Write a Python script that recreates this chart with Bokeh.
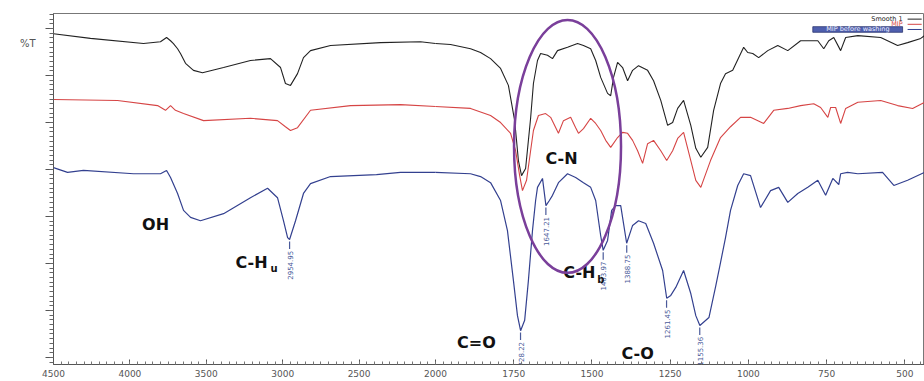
import numpy as np
from bokeh.plotting import figure
from bokeh.models import Range1d, FixedTicker, LinearAxis
from bokeh.core.properties import value
from bokeh.embed import file_html
from bokeh.resources import INLINE

# ---------------- data (wavenumber cm-1, %T in arbitrary offset units) ----------------
smooth_wn = [4500, 4258, 3911, 3800, 3760, 3734, 3715, 3688, 3669, 3636, 3584, 3525, 3387, 3211,
             3080, 3014, 2982, 2949, 2903, 2864, 2818, 2687, 2360, 2098, 2000, 1952, 1888, 1856,
             1824, 1792, 1767, 1747, 1735, 1725, 1712, 1696, 1687, 1674, 1664, 1642, 1626, 1610,
             1578, 1546, 1527, 1504, 1488, 1472, 1450, 1440, 1431, 1418, 1402, 1386, 1370, 1351,
             1322, 1303, 1280, 1258, 1242, 1226, 1207, 1184, 1168, 1152, 1130, 1111, 1089, 1073,
             1050, 1031, 1015, 1002, 986, 967, 938, 906, 874, 833, 778, 759, 743, 727, 705, 689,
             650, 577, 523, 491, 449, 437]
smooth_t = [68.9, 67.9, 66.8, 67.2, 68.1, 67.4, 66.8, 65.7, 64.7, 62.6, 61.1, 60.6, 61.7, 63.2,
            63.6, 61.7, 58.3, 57.9, 60.4, 63.8, 65.3, 66.4, 67.0, 67.2, 66.8, 66.6, 65.7, 64.9,
            63.6, 61.5, 57.9, 50.4, 41.9, 38.7, 40.2, 50.9, 58.3, 63.2, 64.7, 64.3, 63.6, 65.3,
            66.0, 66.8, 66.4, 65.7, 63.2, 59.6, 56.2, 55.7, 59.6, 62.8, 61.7, 58.9, 61.1, 62.1,
            61.1, 58.9, 54.7, 49.4, 50.0, 53.0, 54.7, 49.4, 44.5, 42.6, 44.7, 52.6, 58.3, 60.4,
            61.1, 63.8, 66.0, 64.9, 64.7, 63.8, 65.3, 66.4, 65.3, 67.4, 67.4, 65.7, 67.4, 68.1,
            65.3, 68.1, 68.5, 68.1, 66.4, 67.0, 67.9, 68.5]

mip_wn = [4500, 4081, 3819, 3767, 3734, 3702, 3649, 3518, 3211, 3034, 2982, 2949, 2903, 2818,
          2556, 2229, 2000, 1888, 1824, 1792, 1760, 1744, 1731, 1722, 1709, 1696, 1687, 1671,
          1648, 1632, 1607, 1591, 1568, 1552, 1543, 1527, 1504, 1488, 1472, 1456, 1440, 1418,
          1402, 1386, 1370, 1354, 1338, 1322, 1303, 1280, 1261, 1242, 1226, 1207, 1184, 1168,
          1152, 1121, 1089, 1057, 1025, 993, 951, 919, 874, 833, 791, 769, 746, 737, 721, 705,
          689, 650, 577, 523, 475, 436]
mip_t = [54.9, 54.7, 53.6, 52.6, 53.6, 52.6, 51.9, 50.4, 50.9, 50.4, 49.1, 48.3, 48.9, 52.6,
         53.6, 53.8, 53.4, 53.0, 51.5, 50.0, 47.7, 44.0, 38.7, 35.5, 37.7, 44.0, 48.3, 51.5,
         51.9, 51.1, 47.7, 50.4, 51.1, 48.9, 47.7, 48.7, 50.9, 49.8, 48.3, 46.2, 44.7, 46.8,
         47.9, 47.7, 46.2, 44.0, 41.3, 45.5, 46.2, 44.0, 41.9, 44.0, 46.6, 47.9, 41.9, 37.7,
         36.2, 41.9, 46.8, 49.1, 51.1, 51.1, 49.8, 52.6, 53.0, 53.6, 54.0, 53.2, 51.1, 53.2,
         53.2, 49.8, 53.0, 54.3, 54.7, 53.6, 53.0, 54.3]

nip_wn = [4500, 4408, 4304, 3976, 3800, 3760, 3734, 3688, 3649, 3603, 3538, 3387, 3211, 3099,
          3034, 2995, 2968, 2955, 2916, 2864, 2818, 2687, 2386, 2229, 2000, 1888, 1856, 1824,
          1792, 1770, 1751, 1738, 1728, 1715, 1703, 1690, 1680, 1674, 1658, 1647, 1636, 1626,
          1607, 1578, 1552, 1527, 1504, 1488, 1472, 1464, 1450, 1437, 1424, 1408, 1389, 1370,
          1351, 1328, 1303, 1274, 1261, 1248, 1232, 1207, 1184, 1168, 1155, 1126, 1104, 1089,
          1073, 1057, 1034, 1015, 993, 961, 929, 903, 874, 842, 810, 778, 753, 730, 711, 705,
          683, 650, 571, 535, 491, 436]
nip_t = [40.4, 39.4, 39.8, 39.1, 39.1, 39.8, 38.3, 34.9, 31.3, 29.8, 29.1, 30.6, 34.0, 36.0,
         34.0, 29.1, 25.5, 25.1, 29.1, 34.9, 37.0, 38.5, 38.9, 39.4, 39.4, 39.1, 38.5, 37.2,
         33.4, 27.0, 16.4, 8.9, 5.7, 7.9, 16.4, 27.0, 33.4, 36.2, 38.1, 32.3, 33.4, 34.5,
         37.2, 39.1, 38.3, 37.2, 36.2, 33.4, 25.9, 22.8, 24.9, 31.3, 32.3, 32.3, 24.3, 28.1,
         29.1, 28.5, 24.3, 18.5, 12.6, 13.2, 14.9, 18.5, 13.6, 8.9, 6.8, 8.5, 15.3, 20.2,
         25.5, 31.3, 36.6, 39.1, 38.7, 31.9, 35.5, 36.2, 33.0, 34.9, 36.2, 37.7, 34.5, 38.1,
         36.8, 39.1, 39.4, 39.1, 39.4, 36.6, 37.7, 39.4]

x_ticks_high = [4500, 4000, 3500, 3000, 2500, 2000]
x_ticks_low = [1750, 1500, 1250, 1000, 750, 500]
y_ticks = [0, 10, 20, 30, 40, 50, 60, 70]
y_title = "%T"
y_title_at = 66.8

peak_wn = [2954.95, 1728.22, 1647.21, 1463.97, 1388.75, 1261.45, 1155.36]
peak_lbl = ["2954.95", "1728.22", "1647.21", "1463.97", "1388.75", "1261.45", "1155.36"]
peak_t = [25.1, 5.7, 32.3, 22.8, 24.3, 12.6, 6.8]

band_lbl = ["OH", "C-H", "C=O", "C-N", "C-H", "C-O"]
band_wn = [3832, 3204, 1869, 1597, 1540, 1354]
band_t = [28.3, 20.2, 3.2, 42.3, 18.1, 0.9]
sub_lbl = ["u", "b"]
sub_wn = [3080, 1483]
sub_t = [19.0, 16.6]

legend_names = ["Smooth 1", "MIP", "MIP before washing"]
legend_colors = ["#222222", "#d64545", "#33408f"]

# ---------------- layout of the split (expanded below 2000 cm-1) axis ----------------
W, H = 924, 381
BL, BR, BT, BB = 53, 0, 13, 17
BREAK = 2000.0
WN_MAX, WN_MIN = 4500.0, 437.0
BREAK_FRAC = 382.0 / 871.0
lo_span = (WN_MAX - BREAK) / BREAK_FRAC
hi_span = (BREAK - WN_MIN) / (1 - BREAK_FRAC)
hi_start = BREAK + BREAK_FRAC * hi_span


def hi_to_lo(w):
    frac = (hi_start - w) / hi_span
    return round(WN_MAX - frac * lo_span, 6)


p = figure(width=W, height=H, output_backend="svg", toolbar_location=None,
           x_range=Range1d(WN_MAX, WN_MAX - lo_span), y_range=Range1d(-1.5, 73.2),
           min_border_left=BL, min_border_right=BR, min_border_top=BT, min_border_bottom=BB)
p.extra_x_ranges = {"hi": Range1d(hi_start, WN_MIN)}
p.background_fill_color = "white"
p.border_fill_color = "white"
p.outline_line_color = "#777777"
p.xgrid.visible = False
p.ygrid.visible = False

# x axis
lo_pos = [float(t) for t in x_ticks_high] + [hi_to_lo(t) for t in x_ticks_low]
lo_lab = [str(t) for t in x_ticks_high] + [str(t) for t in x_ticks_low]
minor = [float(t) for t in range(4500, 2000, -50)] + [hi_to_lo(t) for t in range(2000, 430, -25)]
xa = p.xaxis[0]
xa.ticker = FixedTicker(ticks=lo_pos, minor_ticks=minor)
xa.major_label_overrides = {pos: lab for pos, lab in zip(lo_pos, lo_lab)}
xa.major_tick_in = 5
xa.major_tick_out = 0
xa.minor_tick_in = 3
xa.minor_tick_out = 0
xa.major_label_standoff = 5
xa.major_label_text_font = "DejaVu Sans"
xa.major_label_text_font_size = "9px"
xa.major_label_text_color = "#555555"
xa.axis_line_color = "#555555"
xa.major_tick_line_color = "#555555"
xa.minor_tick_line_color = "#777777"

# y axis (no numbers)
ya = p.yaxis[0]
ya.ticker = FixedTicker(ticks=y_ticks, minor_ticks=list(range(-1, 74)))
ya.major_label_overrides = {t: "" for t in y_ticks}
ya.major_tick_in = 0
ya.major_tick_out = 8
ya.minor_tick_in = 0
ya.minor_tick_out = 4
ya.major_label_standoff = 0
ya.axis_line_color = "#555555"
ya.major_tick_line_color = "#555555"
ya.minor_tick_line_color = "#666666"

# "%T" caption placed as the single label of a bare outer axis
ya2 = LinearAxis(ticker=FixedTicker(ticks=[y_title_at], minor_ticks=[]),
                 major_label_overrides={y_title_at: y_title},
                 axis_line_color=None, major_tick_line_color=None, minor_tick_line_color=None,
                 major_tick_in=0, major_tick_out=0, major_label_standoff=10,
                 major_label_text_font="DejaVu Sans", major_label_text_font_size="10px",
                 major_label_text_color="#555555")
p.add_layout(ya2, "left")

# spectra
for wn, t, col, lw in [(smooth_wn, smooth_t, legend_colors[0], 1.1),
                       (mip_wn, mip_t, legend_colors[1], 1.1),
                       (nip_wn, nip_t, legend_colors[2], 1.2)]:
    wn = np.asarray(wn, float)
    t = np.asarray(t, float)
    hi = wn >= BREAK
    lo = wn <= BREAK
    p.line(wn[hi], t[hi], line_color=col, line_width=lw)
    p.line(wn[lo], t[lo], line_color=col, line_width=lw, x_range_name="hi")

# peak labels
pw = np.asarray(peak_wn)
pt = np.asarray(peak_t)
pl = np.asarray(peak_lbl)
for mask, rn in [(pw >= BREAK, "default"), (pw < BREAK, "hi")]:
    p.segment(x0=pw[mask], y0=pt[mask] - 0.4, x1=pw[mask], y1=pt[mask] - 2.0,
              line_color="#4a5a9a", line_width=1.2, x_range_name=rn)
    p.text(x=pw[mask], y=pt[mask] - 2.4, text=pl[mask], angle=np.pi / 2,
           text_align="right", text_baseline="middle", text_font=value("DejaVu Sans"),
           text_font_size="7px", text_color="#4a5a9a", x_range_name=rn)

# band labels
bw = np.asarray(band_wn)
bt = np.asarray(band_t)
bl = np.asarray(band_lbl)
for mask, rn in [(bw >= BREAK, "default"), (bw < BREAK, "hi")]:
    p.text(x=bw[mask], y=bt[mask], text=bl[mask], text_align="center", text_baseline="middle",
           text_font=value("DejaVu Sans"), text_font_style="bold", text_font_size="16px",
           text_color="#111111", x_range_name=rn)
p.text(x=[sub_wn[0]], y=[sub_t[0]], text=[sub_lbl[0]], text_align="left", text_baseline="middle",
       text_font=value("DejaVu Sans"), text_font_style="bold", text_font_size="10px",
       text_color="#111111")
p.text(x=[sub_wn[1]], y=[sub_t[1]], text=[sub_lbl[1]], text_align="left", text_baseline="middle",
       text_font=value("DejaVu Sans"), text_font_style="bold", text_font_size="10px",
       text_color="#111111", x_range_name="hi")

# C-N ellipse
p.ellipse(x=1578, y=44.9, width=342, height=53.8, fill_color=None, line_color="#7a3f9a",
          line_width=2.5, x_range_name="hi")

# legend (instrument style, top right)
leg_t = [72.0, 70.9, 69.8]
p.quad(left=794, right=507, bottom=69.2, top=70.4, fill_color="#4f5fae", line_color="#2b3570",
       line_width=0.8, x_range_name="hi")
p.text(x=[507, 507], y=leg_t[:2], text=legend_names[:2], text_align="right", text_baseline="middle",
       text_font=value("DejaVu Sans"), text_font_size="6.5px", text_color=legend_colors[:2],
       x_range_name="hi")
p.text(x=[650], y=[leg_t[2]], text=[legend_names[2]], text_align="center", text_baseline="middle",
       text_font=value("DejaVu Sans"), text_font_size="6.5px", text_color="#eef0ff",
       x_range_name="hi")
p.segment(x0=[491] * 3, y0=leg_t, x1=[446] * 3, y1=leg_t, line_color=legend_colors,
          line_width=1, x_range_name="hi")

open("out.html", "w").write(file_html(p, INLINE))
